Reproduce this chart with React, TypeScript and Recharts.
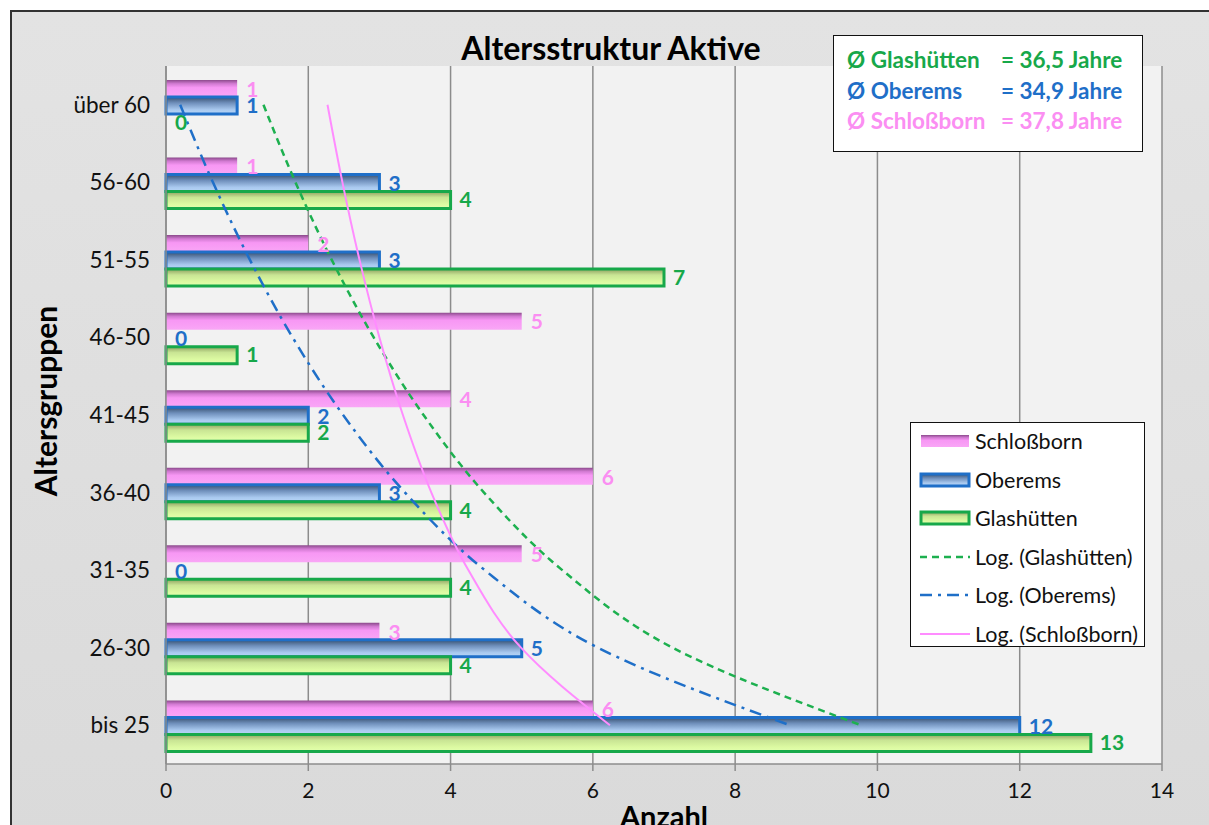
import React from 'react';
import {
  ComposedChart, Bar, Line, XAxis, YAxis, CartesianGrid, Legend, LabelList,
} from 'recharts';

const categories = ['über 60', '56-60', '51-55', '46-50', '41-45', '36-40', '31-35', '26-30', 'bis 25'];
const schlossborn = [1, 1, 2, 5, 4, 6, 5, 3, 6];
const oberems = [1, 3, 3, 0, 2, 3, 0, 5, 12];
const glashuetten = [0, 4, 7, 1, 2, 4, 4, 4, 13];
// logarithmic trend lines (values read at each category)
const trendGlashuetten = [1.37, 1.82, 2.33, 2.92, 3.62, 4.47, 5.57, 7.12, 9.77];
const trendOberems = [0.2, 0.66, 1.18, 1.78, 2.49, 3.36, 4.48, 6.07, 8.77];
const trendSchlossborn = [2.27, 2.48, 2.72, 3.0, 3.33, 3.73, 4.25, 4.99, 6.24];
const xTicks = [0, 2, 4, 6, 8, 10, 12, 14];
const averages = [
  { name: 'Ø Glashütten', value: '= 36,5 Jahre', color: '#17a84a' },
  { name: 'Ø Oberems', value: '= 34,9 Jahre', color: '#1f6fc8' },
  { name: 'Ø Schloßborn', value: '= 37,8 Jahre', color: '#fb8ef2' },
];

const data = categories.map((c, i) => ({
  cat: c,
  s: schlossborn[i],
  o: oberems[i],
  g: glashuetten[i],
  tg: trendGlashuetten[i],
  to: trendOberems[i],
  ts: trendSchlossborn[i],
}));

const FONT = 'Lato, "Open Sans", sans-serif';
const PINK = '#fb8ef2';
const BLUE = '#1f6fc8';
const GREEN = '#17a84a';
const BAR_STEP = 16.55;

const makeLabel = (color: string, dy: number) => (props: any) => {
  const vb = props.viewBox || {};
  const x = (vb.x ?? props.x) + (vb.width ?? 0);
  const y = (vb.y ?? props.y) + (vb.height ?? 0) / 2;
  if (x == null || y == null || isNaN(x) || isNaN(y)) return null;
  return (
    <text x={x + 9} y={y + dy} dominantBaseline="central" textAnchor="start"
      fill={color} fontFamily={FONT} fontWeight={700} fontSize={21}>
      {props.value}
    </text>
  );
};

const legendItems = [
  { label: 'Schloßborn', kind: 'bar', fill: 'url(#lgPink)', stroke: 'none' },
  { label: 'Oberems', kind: 'bar', fill: 'url(#lgBlue)', stroke: BLUE },
  { label: 'Glashütten', kind: 'bar', fill: 'url(#lgGreen)', stroke: GREEN },
  { label: 'Log. (Glashütten)', kind: 'line', stroke: '#1db04f', dash: '7 5', w: 2.5 },
  { label: 'Log. (Oberems)', kind: 'line', stroke: BLUE, dash: '12 6 3 6', w: 2.5 },
  { label: 'Log. (Schloßborn)', kind: 'line', stroke: '#ff8cff', dash: undefined, w: 2 },
];

function GradDefs({ prefix }: { prefix: string }) {
  return (
    <defs>
      <linearGradient id={`${prefix}Pink`} x1="0" y1="0" x2="0" y2="1">
        <stop offset="0%" stopColor="#8c4a8c" />
        <stop offset="22%" stopColor="#d27ad2" />
        <stop offset="45%" stopColor="#f797f4" />
        <stop offset="100%" stopColor="#f9a6f6" />
      </linearGradient>
      <linearGradient id={`${prefix}Blue`} x1="0" y1="0" x2="0" y2="1">
        <stop offset="0%" stopColor="#37506f" />
        <stop offset="35%" stopColor="#6f8fbb" />
        <stop offset="75%" stopColor="#a9c9ef" />
        <stop offset="100%" stopColor="#b8d6f7" />
      </linearGradient>
      <linearGradient id={`${prefix}Green`} x1="0" y1="0" x2="0" y2="1">
        <stop offset="0%" stopColor="#8da060" />
        <stop offset="35%" stopColor="#c9e594" />
        <stop offset="75%" stopColor="#dcfaa2" />
        <stop offset="100%" stopColor="#e2ffae" />
      </linearGradient>
    </defs>
  );
}

function LegendBox() {
  return (
    <div style={{
      width: 235, height: 225, boxSizing: 'border-box', background: '#fff',
      border: '1.5px solid #111', position: 'relative', fontFamily: FONT,
    }}>
      <svg width={0} height={0} style={{ position: 'absolute' }}>
        <GradDefs prefix="lg" />
      </svg>
      {legendItems.map((it, i) => (
        <div key={it.label} style={{
          position: 'absolute', left: 8, top: 18 + i * 38.6 - 14, height: 28,
          display: 'flex', alignItems: 'center',
        }}>
          <svg width={52} height={28}>
            {it.kind === 'bar' ? (
              <rect x={2} y={8} width={48} height={12} fill={it.fill}
                stroke={it.stroke} strokeWidth={3} />
            ) : (
              <line x1={1} y1={14} x2={51} y2={14} stroke={it.stroke}
                strokeWidth={it.w} strokeDasharray={it.dash} />
            )}
          </svg>
          <span style={{ fontSize: 21.5, color: '#111', marginLeft: 4, whiteSpace: 'nowrap' }}>{it.label}</span>
        </div>
      ))}
    </div>
  );
}

const YLabel = (props: any) => {
  const vb = props.viewBox || { x: 0, y: 0, width: 0, height: 0 };
  const cx = 33;
  const cy = vb.y + vb.height / 2 - 14;
  return (
    <text x={cx} y={cy} transform={`rotate(-90 ${cx} ${cy})`} textAnchor="middle"
      dominantBaseline="central" fill="#000" fontFamily={FONT} fontWeight={700} fontSize={30}>
      Altersgruppen
    </text>
  );
};

export default function App() {
  return (
    <div style={{
      position: 'absolute', left: 0, top: 0, width: 1209, height: 825,
      overflow: 'hidden', background: '#ffffff',
    }}>
      <div style={{
        position: 'absolute', left: 10, top: 10, width: 1215, height: 830,
        border: '2px solid #333', background: 'linear-gradient(#e3e3e3, #dadada)',
      }}>
        <div style={{
          position: 'absolute', left: 0, top: 19, width: 1198, textAlign: 'center',
          fontFamily: FONT, fontWeight: 700, fontSize: 32, lineHeight: '34px', color: '#000',
        }}>
          Altersstruktur Aktive
        </div>
        <ComposedChart
          width={1199}
          height={820}
          data={data}
          layout="vertical"
          margin={{ top: 54, right: 49, bottom: 0, left: 0 }}
          barCategoryGap="18%"
          barGap={0}
          style={{ position: 'absolute', left: 0, top: 0 }}
        >
          <GradDefs prefix="g" />
          <CartesianGrid horizontal={false} vertical stroke="#8c8c8c" strokeWidth={1.5} fill="#f2f2f2" fillOpacity={1} />
          <XAxis
            type="number"
            domain={[0, 14]}
            ticks={xTicks}
            interval={0}
            height={68}
            tickSize={7}
            tickMargin={12}
            axisLine={{ stroke: '#8c8c8c', strokeWidth: 1.5 }}
            tickLine={{ stroke: '#8c8c8c', strokeWidth: 1.5 }}
            tick={{ fill: '#111', fontSize: 21, fontFamily: FONT }}
            label={{
              value: 'Anzahl', position: 'insideBottom', offset: 5,
              style: { fill: '#000', fontSize: 29, fontWeight: 700, fontFamily: FONT },
            }}
          />
          <YAxis
            type="category"
            dataKey="cat"
            width={154}
            tickLine={false}
            tickMargin={10}
            axisLine={{ stroke: '#8c8c8c', strokeWidth: 1.5 }}
            tick={{ fill: '#111', fontSize: 22.5, fontFamily: FONT }}
            label={<YLabel />}
          />
          <Bar dataKey="s" name="Schloßborn" fill="url(#gPink)" isAnimationActive={false} />
          <Bar dataKey="o" name="Oberems" fill="url(#gBlue)" stroke={BLUE} strokeWidth={3} isAnimationActive={false} />
          <Bar dataKey="g" name="Glashütten" fill="url(#gGreen)" stroke={GREEN} strokeWidth={3} isAnimationActive={false} />
          <Line dataKey="tg" name="Log. (Glashütten)" type="monotone" stroke="#1db04f" strokeWidth={2.5}
            strokeDasharray="7 5" dot={false} activeDot={false} isAnimationActive={false} />
          <Line dataKey="to" name="Log. (Oberems)" type="monotone" stroke={BLUE} strokeWidth={2.5}
            strokeDasharray="12 6 3 6" dot={false} activeDot={false} isAnimationActive={false} />
          <Line dataKey="ts" name="Log. (Schloßborn)" type="monotone" stroke="#ff8cff" strokeWidth={2}
            dot={false} activeDot={false} isAnimationActive={false} />
          <Line dataKey="s" stroke="none" strokeWidth={0} dot={false} activeDot={false} isAnimationActive={false} legendType="none">
            <LabelList dataKey="s" content={makeLabel(PINK, -BAR_STEP)} />
          </Line>
          <Line dataKey="o" stroke="none" strokeWidth={0} dot={false} activeDot={false} isAnimationActive={false} legendType="none">
            <LabelList dataKey="o" content={makeLabel(BLUE, 0)} />
          </Line>
          <Line dataKey="g" stroke="none" strokeWidth={0} dot={false} activeDot={false} isAnimationActive={false} legendType="none">
            <LabelList dataKey="g" content={makeLabel(GREEN, BAR_STEP)} />
          </Line>
          <Legend
            layout="vertical"
            align="center"
            verticalAlign="middle"
            wrapperStyle={{ left: 898, top: 410, width: 235, height: 225 }}
            content={() => <LegendBox />}
          />
        </ComposedChart>
        <div style={{
          position: 'absolute', left: 821, top: 23, width: 310, height: 117,
          boxSizing: 'border-box', border: '1.5px solid #111', background: '#fff',
          padding: '9px 0 0 13px', fontFamily: FONT, fontWeight: 700, fontSize: 22.5,
          lineHeight: '30.5px',
        }}>
          {averages.map((a) => (
            <div key={a.name} style={{ color: a.color, whiteSpace: 'nowrap' }}>
              <span style={{ display: 'inline-block', width: 154 }}>{a.name}</span>
              <span>{a.value}</span>
            </div>
          ))}
        </div>
      </div>
    </div>
  );
}
